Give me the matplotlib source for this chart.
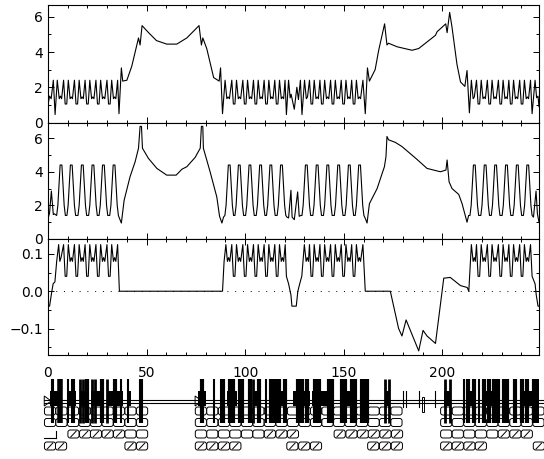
import matplotlib
matplotlib.use("Agg")
import matplotlib.pyplot as plt
from matplotlib.patches import FancyBboxPatch, Polygon, Rectangle
from matplotlib.ticker import MultipleLocator

W, H = 544, 459

# comb sections, shared by the top and bottom curves
comb1_x = [7.9,8.7,9.5,10.3,11.2,11.8,12.4, 13.4,14.2,15.0,15.8,16.7,17.3,17.9,
           18.8,19.6,20.4,21.2,22.1,22.7,23.3, 24.3,25.1,25.9,26.7,27.6,28.2,28.8,
           29.9,30.7,31.5,32.3,33.2,33.8,34.4]
comb2_x = [93.2,94.0,94.8,95.6,96.5,97.1,97.7, 98.8,99.6,100.4,101.2,102.1,102.7,103.3,
           104.2,105.0,105.8,106.6,107.5,108.1,108.7, 109.6,110.4,111.2,112.0,112.9,113.5,114.1,
           115.0,115.8,116.6,117.4,118.3,118.9,119.5]
comb3_x = [132.6,133.4,134.2,135.0,135.9,136.5,137.1, 137.9,138.7,139.5,140.3,141.2,141.8,142.4,
           143.3,144.1,144.9,145.7,146.6,147.2,147.8, 148.7,149.5,150.3,151.1,152.0,152.6,153.2,
           154.0,154.8,155.6,156.4,157.3,157.9,158.5]
comb4_x = [217.3,218.1,218.9,219.7,220.6,221.2,221.8, 222.8,223.6,224.4,225.2,226.1,226.7,227.3,
           228.4,229.2,230.0,230.8,231.7,232.3,232.9, 233.7,234.5,235.3,236.1,237.0,237.6,238.2,
           239.2,240.0,240.8,241.6,242.5,243.1,243.7]
comb_top = [2.4,1.05,1.05,2.4,1.35,1.45,1.35]*5
comb_low = [.125,.04,.04,.125,.08,.09,.08]*5

# top panel
top_x0 = [0,.8,1.6,2.7,3.6,4.7,5.7,6.3,6.9]
top_y0 = [1.0,1.5,1.35,2.4,.45,2.4,1.35,1.5,1.35]
top_x1 = [35.3,36.0,37.2,37.9,40,42.5,45.9,46.7,47.7,51,55,60.2,65.3,70.4,76.6,77.8,78.5,80.5,84,
          86.8,87.5,88.5,89.8,90.7,91.3,92.0]
top_y1 = [2.4,.5,3.1,2.35,2.4,3.2,4.8,4.4,5.5,5.1,4.65,4.45,4.45,4.8,5.5,4.4,4.8,4.2,2.55,
          2.35,3.1,.5,2.4,1.35,1.45,1.35]
top_x2 = [120.2,120.9,122.0,122.8,123.3,124.9,126.2,127.0,128.0,128.8,130.1,131.0,131.6]
top_y2 = [2.4,.45,2.4,1.4,1.6,.75,2.0,1.3,2.4,.45,2.4,1.35,1.45]
top_x3 = [159.7,160.9,162,163,165.9,167.7,170.7,171.9,172.7,177,184.6,188,192,196.5,197.3,201.7,
          202.4,203.7,204.9,207.4,209.2,211.4,212.5,213.7,214.7,215.6,216.2]
top_y3 = [2.4,.5,3.1,2.35,3.0,4.1,5.6,4.4,4.5,4.3,4.1,4.2,4.55,4.95,5.15,5.6,
          5.1,6.25,5.4,3.3,2.3,2.05,2.95,.55,2.4,1.35,1.45]
top_x4 = [244.7,245.5,247,247.8,248.5,249]
top_y4 = [2.4,.5,2.4,1.4,1.5,.9]

# middle panel
peak_y = [1.4,2.0,3.3,4.4,4.4,3.3,2.0,1.4]*6
peak1_x = [4.4,5.0,5.6,6.15,7.05,7.6,8.2,8.8, 9.6,10.2,10.8,11.35,12.25,12.8,13.4,14.0,
           15.2,15.8,16.4,16.95,17.85,18.4,19.0,19.6, 20.6,21.2,21.8,22.35,23.25,23.8,24.4,25.0,
           25.9,26.5,27.1,27.65,28.55,29.1,29.7,30.3, 31.3,31.9,32.5,33.05,33.95,34.5,35.1,35.7]
peak2_x = [89.7,90.3,90.9,91.45,92.35,92.9,93.5,94.1, 94.8,95.4,96.0,96.55,97.45,98.0,98.6,99.2,
           100.2,100.8,101.4,101.95,102.85,103.4,104.0,104.6, 105.6,106.2,106.8,107.35,108.25,108.8,109.4,110.0,
           110.8,111.4,112.0,112.55,113.45,114.0,114.6,115.2, 116.2,116.8,117.4,117.95,118.85,119.4,120.0,120.6]
peak3_x = [128.8,129.4,130.0,130.55,131.45,132.0,132.6,133.2, 134.3,134.9,135.5,136.05,136.95,137.5,138.1,138.7,
           139.7,140.3,140.9,141.45,142.35,142.9,143.5,144.1, 145.2,145.8,146.4,146.95,147.85,148.4,149.0,149.6,
           150.6,151.2,151.8,152.35,153.25,153.8,154.4,155.0, 155.8,156.4,157.0,157.55,158.45,159.0,159.6,160.2]
peak4_x = [214.0,214.6,215.2,215.75,216.65,217.2,217.8,218.4, 219.5,220.1,220.7,221.25,222.15,222.7,223.3,223.9,
           224.8,225.4,226.0,226.55,227.45,228.0,228.6,229.2, 230.3,230.9,231.5,232.05,232.95,233.5,234.1,234.7,
           235.8,236.4,237.0,237.55,238.45,239.0,239.6,240.2, 241.1,241.7,242.3,242.85,243.75,244.3,244.9,245.5]
mid_x0 = [0,.8,1.7,2.7,3.2,3.8]
mid_y0 = [1.2,1.55,2.85,1.45,1.5,1.45]
mid_x1 = [36.0,37.2,38.6,41.6,44.2,45.9,46.7,47.4,47.9,50.9,55.2,60.2,65,67.9,70.4,74.6,77.2,77.8,78.5,
          78.8,82.2,85.6,87,88.2,89.0]
mid_y1 = [1.3,.95,2.3,3.7,4.6,5.4,6.7,6.7,5.4,4.8,4.2,3.8,3.8,4.15,4.3,4.85,5.4,6.7,6.7,
          5.4,4.0,2.5,1.35,.95,1.3]
mid_x2 = [121.2,122,123.2,123.8,124.9,126.6,127.4,128.2]
mid_y2 = [1.3,1.25,2.9,1.3,1.15,2.8,1.35,1.4]
mid_x3 = [161,161.8,163,166.9,170.6,171.4,171.9,172.7,176.1,179.5,187,192.2,195.6,199,201.8,202.4,
          203.4,204.9,208.3,210,212.5,213.3]
mid_y3 = [1.2,.95,2.1,3.0,4.3,4.9,6.1,5.9,5.75,5.5,4.75,4.2,4.1,4.0,4.1,4.7,
          3.4,3.0,2.65,2.1,1.0,1.4]
mid_x4 = [246.2,247.5,248.2,249]
mid_y4 = [1.3,2.85,1.5,1.0]

# bottom panel
low_x0 = [0,.8,1.8,2.6,3.5,4.4,5.4,6.0,6.6]
low_y0 = [-.04,-.04,-.005,.02,.025,.08,.125,.08,.09]
low_x1 = [35.3,36.2,88.5,89.3,90.2,91.0,91.6,92.2]
low_y1 = [.125,0,0,.08,.125,.08,.09,.08]
low_x2 = [120.3,120.9,122,123.2,123.7,125.9,126.7,127.9,128.7,130,130.9,131.5,132.1]
low_y2 = [.125,.04,.02,-.01,-.04,-.04,0,.025,.04,.125,.08,.09,.08]
low_x3 = [159.7,160.9,173.6,177.8,179.5,181.6,188,190.2,192.2,196.5,200.7,204,209.2,212.6,213.4,
          214.0,214.7,215.6,216.2,216.7]
low_y3 = [.125,0,0,-.1,-.12,-.077,-.16,-.105,-.12,-.14,.035,.037,.015,.01,0,
          .06,.125,.08,.09,.08]
low_x4 = [244.7,245.5,247,247.6,248.5,249]
low_y4 = [.125,.04,.02,-.01,-.04,-.04]

# annotation strip below the plot
row2_starts = [-1.9,3.9,9.8,15.6,21.4,27.3,33.1,38.9,44.8,
               74.6,80.4,86.3,92.1,98,103.8,109.6,115.5,121.3,127.2,133,138.8,144.7,150.5,156.3,
               162.2,168,173.8,199,204.9,210.7,216.6,222.4,228.2,234.1,239.9,245.8]
row3_starts = [-1.9,3.9,9.8,15.6,21.4,27.3,33.1,38.9,44.8,
               74.6,80.4,86.3,92.1,98,103.8,109.6,115.5,121.3,127.2,133,138.8,144.7,150.5,156.3,
               162.2,168,173.8,199,204.9,210.7,216.6,222.4,228.2,234.1,239.9,245.8]
row4_plain = [74.6,80.4,86.3,92.1,98.0,103.8,199.0,204.9,210.7,216.6,222.4]
row4_slash = [10.0,15.9,21.4,27.3,33.1,109.6,115.5,121.3,145.0,151.0,156.8,162.3,168.2,174.1,
              228.2,234.1,239.9]
row4_open = [38.9,44.8]
row5_slash = [-1.9,3.7,38.9,44.8,74.6,80.4,86.3,92.1,121,127,133,162,168,174,199,204.9,210.8,216.6,246]
spike_x = [1.9,2.7,6.1,10.3,12,13.2,16.2,18,20,22.2,23.9,27.2,30,34,37,40.8,46.7,47.7,
           78,84.4,87.6,89,92.4,93.7,97.5,98.6,102.2,104.2,106.8,110.7,113,115.2,117.4,120.3,
           126.6,128.8,131.3,135.5,137.2,142.3,144,149,150.8,154,155.8,
           159.2,160.6,162,171,172.8,201.5,203.7,211,212.9,216,218.5,221.3,223.5,226,228,231,233,
           237,240.5,243,246.4,248]
spike_w = [1.5,1.5,4,1.5,1.5,1.5,2,2,3,2,2,3,2,3,1.5,1.5,1.5,1.5,
           3,1.5,1.5,3,3,3,3,3,3,2,3,1.5,3,3,3,3,
           3,3,3,3,3,3,3,3,3,3,3,
           3,3,3,2,2,2,2,1.5,3,3,1.5,3,3,3,3,3,3,
           3,3,3,3,3]
blob_x0 = [1,10,16,22,30,40,46.5,76,91,104,112,124,134,148,159,171,201,212,221,231,240]
blob_x1 = [7,14,20,27,38,42,48,80,96,108,121,133,145,156,162,173,204,217,229,234,248]
thin_x = [180,181.6,188,196.5]


def px_axes(left, top, right, bottom):
    return fig.add_axes([left/W, 1-bottom/H, (right-left)/W, (bottom-top)/H])


plt.rcParams['font.size'] = 10
fig = plt.figure(figsize=(W/100, H/100), dpi=100)
ax1 = px_axes(48, 5, 539, 122.5)
ax2 = px_axes(48, 122.5, 539, 239)
ax3 = px_axes(48, 239, 539, 355)

ax1.plot(top_x0+comb1_x+top_x1+comb2_x+top_x2+comb3_x+top_x3+comb4_x+top_x4,
         top_y0+comb_top+top_y1+comb_top+top_y2+comb_top+top_y3+comb_top+top_y4, 'k', lw=0.8)
ax2.plot(mid_x0+peak1_x+mid_x1+peak2_x+mid_x2+peak3_x+mid_x3+peak4_x+mid_x4,
         mid_y0+peak_y+mid_y1+peak_y+mid_y2+peak_y+mid_y3+peak_y+mid_y4, 'k', lw=0.8)
ax3.plot(low_x0+comb1_x+low_x1+comb2_x+low_x2+comb3_x+low_x3+comb4_x+low_x4,
         low_y0+comb_low+low_y1+comb_low+low_y2+comb_low+low_y3+comb_low+low_y4, 'k', lw=0.8)
ax3.axhline(0, color='k', lw=0.7, ls=(0, (1, 7)))

ax1.set_ylim(0, 6.67)
ax2.set_ylim(0, 6.93)
ax3.set_ylim(-0.171, 0.14)
for ax in (ax1, ax2):
    ax.yaxis.set_major_locator(MultipleLocator(2))
    ax.yaxis.set_minor_locator(MultipleLocator(1))
ax3.yaxis.set_major_locator(MultipleLocator(0.1))
ax3.yaxis.set_minor_locator(MultipleLocator(0.05))
for ax in (ax1, ax2, ax3):
    ax.set_xlim(0, 249)
    ax.xaxis.set_major_locator(MultipleLocator(50))
    ax.xaxis.set_minor_locator(MultipleLocator(10))
    ax.tick_params(which='major', direction='in', length=4.5, width=0.7, top=True, right=True, pad=3.5)
    ax.tick_params(which='minor', direction='in', length=2.4, width=0.7, top=True, right=True)
    for s in ax.spines.values():
        s.set_linewidth(0.8)
ax1.tick_params(labelbottom=False)
ax2.tick_params(labelbottom=False)
ax3.tick_params(axis='x', which='major', pad=8)

# strip uses x data units and y in image pixels
strip = px_axes(48, 355, 539, 459)
strip.set_xlim(0, 249)
strip.set_ylim(459, 355)
strip.axis('off')
strip.patch.set_alpha(0)


def pill(x, yc, w, h, slash=False):
    strip.add_patch(FancyBboxPatch((x+0.1, yc-h/2), w-0.2, h, boxstyle='round,pad=0,rounding_size=1.2',
                                   mutation_aspect=1.97, fc='white', ec='k', lw=0.7, clip_on=False))
    if slash:
        strip.plot([x+1.5, x+w-1.5], [yc+h/2-1, yc-h/2+1], 'k', lw=0.7, clip_on=False)


for x in row2_starts:
    pill(x, 411, 5.85, 8)
for x in row3_starts:
    pill(x, 422.5, 5.85, 8)
for x in row4_plain + row4_open:
    pill(x, 434, 5.85, 8)
for x in row4_slash:
    pill(x, 434, 5.85, 8, slash=True)
for x in row5_slash:
    pill(x, 446, 5.85, 8, slash=True)
strip.plot([-1.9, 4.3], [438, 438], 'k', lw=0.8, clip_on=False)
strip.plot([4.3, 4.3], [431, 438], 'k', lw=0.8, clip_on=False)

strip.plot([-1.9, 252], [400, 400], 'k', lw=0.8, clip_on=False)
strip.plot([-1.9, 252], [403, 403], 'k', lw=0.8, clip_on=False)
for x in (-1.9, 74.6):
    strip.add_patch(Polygon([(x, 396), (x+3.5, 401), (x, 406)], fc='white', ec='k', lw=0.7, clip_on=False))
strip.add_patch(Rectangle((189.6, 397), 1, 15, fc='white', ec='k', lw=0.7))
for x in thin_x:
    strip.plot([x, x], [391, 407], 'k', lw=0.8)
for x, w in zip(spike_x, spike_w):
    strip.plot([x, x], [379, 423], 'k', lw=w, solid_capstyle='butt')
for a, b in zip(blob_x0, blob_x1):
    strip.add_patch(Rectangle((a, 391), b-a, 15, fc='k', ec='none'))

fig.savefig("out.png", dpi=100)
